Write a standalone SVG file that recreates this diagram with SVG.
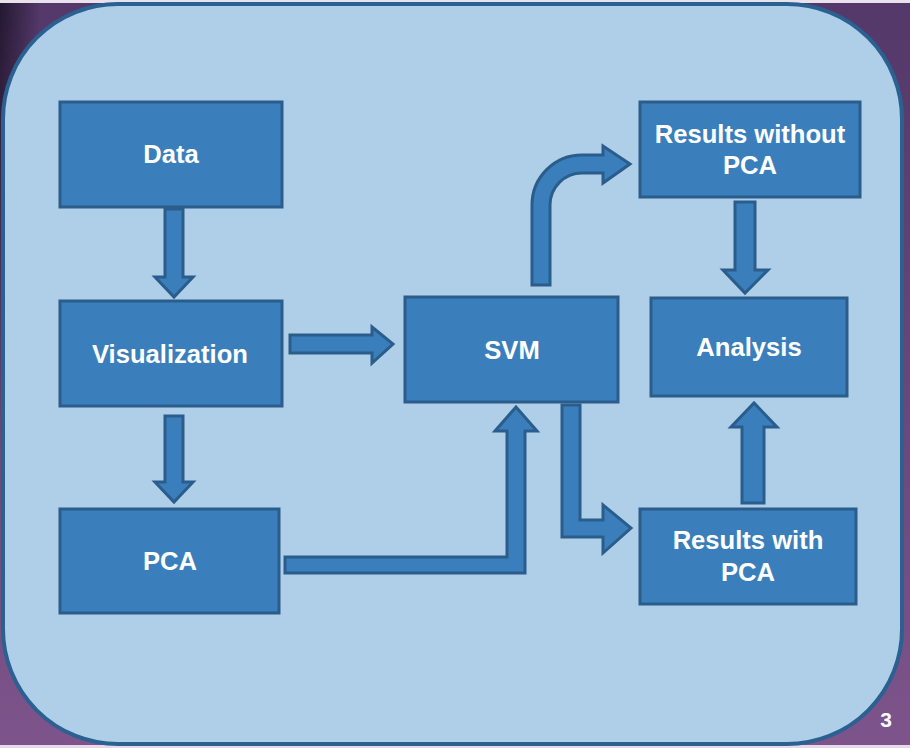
<svg xmlns="http://www.w3.org/2000/svg" width="910" height="748" viewBox="0 0 910 748">
<style>
.box{fill:#3a7fbb;stroke:#2a5d8c;stroke-width:3}
.arr{fill:#3a7fbb;stroke:#2a5d8c;stroke-width:3;stroke-linejoin:miter}
.lbl{fill:#ffffff;font-family:"Liberation Sans",Arial,sans-serif;font-weight:bold;font-size:25.6px;text-anchor:middle}
</style>
<defs>
<linearGradient id="bgv" x1="0" y1="0" x2="0" y2="1">
<stop offset="0" stop-color="#533869"/>
<stop offset="1" stop-color="#7d548b"/>
</linearGradient>
<linearGradient id="bgl" x1="0" y1="0" x2="1" y2="0">
<stop offset="0" stop-color="#1c1226" stop-opacity="0.85"/>
<stop offset="1" stop-color="#1c1226" stop-opacity="0"/>
</linearGradient>
<linearGradient id="bglv" x1="0" y1="0" x2="0" y2="1">
<stop offset="0" stop-color="#fff" stop-opacity="1"/>
<stop offset="0.6" stop-color="#fff" stop-opacity="0"/>
</linearGradient>
<mask id="lm"><rect x="0" y="0" width="40" height="748" fill="url(#bglv)"/></mask>
</defs>
<g id="background">
<rect x="0" y="0" width="910" height="748" fill="url(#bgv)"/>
<rect x="0" y="0" width="40" height="748" fill="url(#bgl)" mask="url(#lm)"/>
<rect x="0" y="0" width="910" height="3" fill="#e9e2ec"/>
<rect x="0" y="745" width="910" height="3" fill="#e4d8ea"/>
<rect x="3" y="4" width="899" height="740" rx="115" ry="115" fill="#aecfe7" stroke="#2b6190" stroke-width="4"/>
<text x="886" y="727" fill="#ffffff" font-family="'Liberation Sans',Arial,sans-serif" font-weight="bold" font-size="21" text-anchor="middle">3</text>
</g>
<g id="connectors">
<path class="arr" d="M165,209 L183,209 L183,277 L193,277 L174,297 L155,277 L165,277 Z"/>
<path class="arr" d="M165,416 L183,416 L183,482 L193,482 L174,502 L155,482 L165,482 Z"/>
<path class="arr" d="M290,335 L372,335 L372,327 L393,344 L372,363 L372,353 L290,353 Z"/>
<path class="arr" d="M285,557 L507,557 L507,431 L495,431 L516,407 L537,431 L525,431 L525,573 L285,573 Z"/>
<path class="arr" d="M562,405 L580,405 L580,520 L603,520 L603,505 L631,528 L603,553 L603,537 L562,537 Z"/>
<path class="arr" d="M532,285 L532,205 A50,50 0 0 1 582,155 L603,155 L603,146 L630,164 L603,183 L603,173 L582,173 A32,32 0 0 0 550,205 L550,285 Z"/>
<path class="arr" d="M735,202 L755,202 L755,270 L768,270 L745,293 L723,270 L735,270 Z"/>
<path class="arr" d="M742,503 L742,427 L731,427 L754,403 L777,427 L764,427 L764,503 Z"/>
</g>
<g id="data"><rect class="box" x="60" y="102" width="222" height="105"/><text class="lbl" x="171" y="163">Data</text></g>
<g id="visualization"><rect class="box" x="60" y="301" width="222" height="105"/><text class="lbl" x="170" y="363">Visualization</text></g>
<g id="pca"><rect class="box" x="60" y="509" width="219" height="104"/><text class="lbl" x="170" y="570">PCA</text></g>
<g id="svm"><rect class="box" x="405" y="297" width="213" height="105"/><text class="lbl" x="512" y="359">SVM</text></g>
<g id="results-without-pca"><rect class="box" x="640" y="102" width="220" height="95"/><text class="lbl" x="750" y="143">Results without</text><text class="lbl" x="750" y="174">PCA</text></g>
<g id="analysis"><rect class="box" x="651" y="298" width="196" height="98"/><text class="lbl" x="749" y="356">Analysis</text></g>
<g id="results-with-pca"><rect class="box" x="640" y="509" width="216" height="95"/><text class="lbl" x="748" y="549">Results with</text><text class="lbl" x="748" y="581">PCA</text></g>
</svg>
